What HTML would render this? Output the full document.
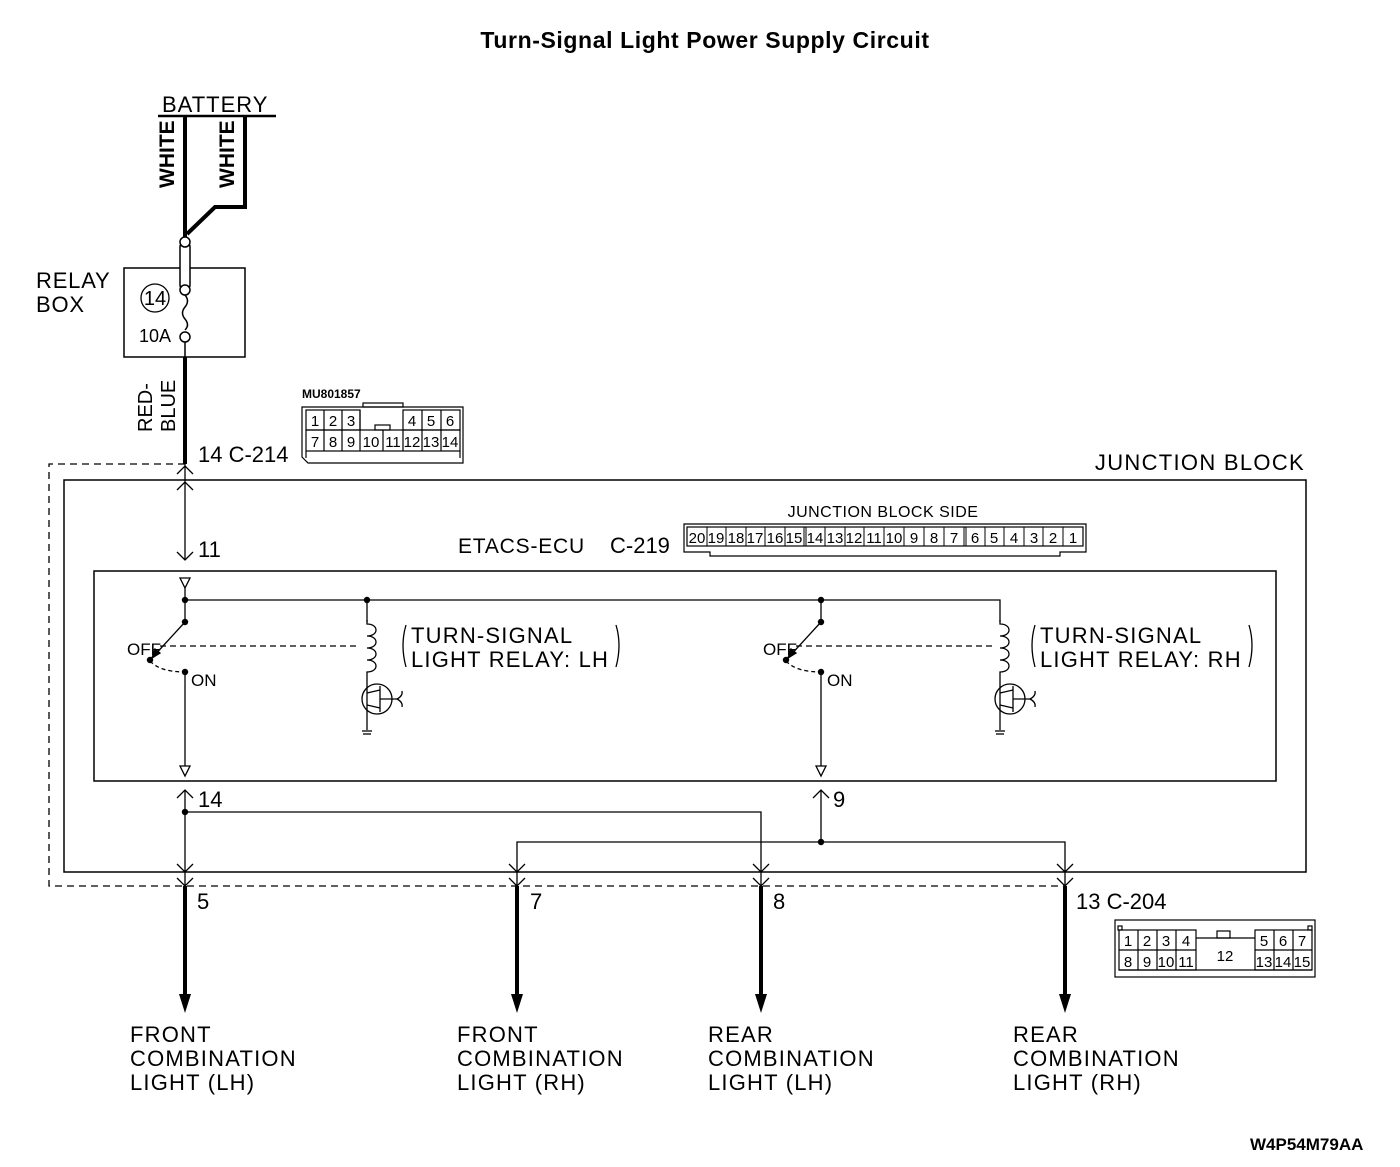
<!DOCTYPE html>
<html><head><meta charset="utf-8"><style>
html,body{margin:0;padding:0;background:#fff;}
svg{display:block;font-family:"Liberation Sans",sans-serif;}
.n{font-family:"Liberation Sans Narrow","Liberation Sans",sans-serif;}
.w{letter-spacing:1.2px;}
</style></head><body>
<svg width="1400" height="1167" viewBox="0 0 1400 1167" xmlns="http://www.w3.org/2000/svg" stroke-linecap="butt">
<text x="705" y="48" font-size="23" font-weight="bold" text-anchor="middle" letter-spacing="0.6">Turn-Signal Light Power Supply Circuit</text>

<!-- battery -->
<text x="162" y="112" font-size="22" letter-spacing="1">BATTERY</text>
<line x1="158" y1="116" x2="276" y2="116" stroke="#000" stroke-width="2.5"/>
<polyline points="185,116 185,238" fill="none" stroke="#000" stroke-width="4"/>
<polyline points="245,116 245,207 215,207 187,234" fill="none" stroke="#000" stroke-width="4"/>
<text transform="translate(174,188) rotate(-90)" font-size="21" font-weight="bold" class="n">WHITE</text>
<text transform="translate(234,188) rotate(-90)" font-size="21" font-weight="bold" class="n">WHITE</text>

<!-- relay box -->
<text x="36" y="288" font-size="22" letter-spacing="0.8">RELAY</text>
<text x="36" y="312" font-size="22" letter-spacing="0.8">BOX</text>
<rect x="124" y="268" width="121" height="89" fill="#fff" stroke="#000" stroke-width="1.5"/>
<rect x="180" y="242" width="10" height="48" rx="5" fill="#fff" stroke="#000" stroke-width="1.5"/>
<circle cx="185" cy="242" r="5" fill="#fff" stroke="#000" stroke-width="1.5"/>
<circle cx="185" cy="290" r="5" fill="#fff" stroke="#000" stroke-width="1.5"/>
<path d="M185,295 q5,6 0,12 q-5,6 0,12 q5,6 0,11" fill="none" stroke="#000" stroke-width="1.5"/>
<circle cx="185" cy="337" r="5" fill="#fff" stroke="#000" stroke-width="1.5"/>
<circle cx="155" cy="298" r="14" fill="none" stroke="#000" stroke-width="1.3"/>
<text x="155" y="305" font-size="20" text-anchor="middle" class="n">14</text>
<text x="139" y="342" font-size="18" class="n">10A</text>
<line x1="185" y1="342" x2="185" y2="357" stroke="#000" stroke-width="1.5"/>
<line x1="185" y1="357" x2="185" y2="464" stroke="#000" stroke-width="4"/>
<text transform="translate(152,432) rotate(-90)" font-size="20" class="n">RED-</text>
<text transform="translate(175,432) rotate(-90)" font-size="20" class="n">BLUE</text>
<text x="198" y="462" font-size="22" class="n">14  C-214</text>

<!-- MU801857 connector -->
<text x="302" y="398" font-size="12" font-weight="bold" class="n">MU801857</text>
<g stroke="#000" fill="none" stroke-width="1.2">
<rect x="363" y="403" width="40" height="4"/>
<path d="M302,407 H463 V463 H308 L302,457 Z"/>
<rect x="306" y="410" width="54" height="20"/>
<rect x="403" y="410" width="57" height="20"/>
<rect x="306" y="430" width="154" height="21"/>
<line x1="324" y1="410" x2="324" y2="451"/><line x1="342" y1="410" x2="342" y2="451"/><line x1="360" y1="410" x2="360" y2="451"/>
<line x1="422" y1="410" x2="422" y2="451"/><line x1="441" y1="410" x2="441" y2="451"/><line x1="403" y1="430" x2="403" y2="451"/>
<line x1="383" y1="430" x2="383" y2="451"/>
<rect x="375" y="425" width="15" height="5"/>
<line x1="306" y1="451" x2="306" y2="458"/><line x1="460" y1="451" x2="460" y2="458"/>
</g>
<g font-size="15" text-anchor="middle" class="n">
<text x="315" y="426">1</text><text x="333" y="426">2</text><text x="351" y="426">3</text>
<text x="412" y="426">4</text><text x="431" y="426">5</text><text x="450" y="426">6</text>
<text x="315" y="447">7</text><text x="333" y="447">8</text><text x="351" y="447">9</text>
<text x="371" y="447">10</text><text x="393" y="447">11</text><text x="412" y="447">12</text><text x="431" y="447">13</text><text x="450" y="447">14</text>
</g>

<!-- junction block -->
<path d="M185,464 H49 V886 H1065" fill="none" stroke="#000" stroke-width="1.3" stroke-dasharray="7,5"/>
<rect x="64" y="480" width="1242" height="392" fill="none" stroke="#000" stroke-width="1.5"/>
<text x="1305" y="470" font-size="22" text-anchor="end" letter-spacing="1.3">JUNCTION BLOCK</text>
<g stroke="#000" fill="none" stroke-width="1.3">
<line x1="185" y1="464" x2="185" y2="560"/>
<polyline points="177,474 185,466 193,474"/>
<polyline points="177,490 185,482 193,490"/>
<polyline points="177,552 185,560 193,552"/>
</g>
<text x="198" y="557" font-size="22" class="n">11</text>
<text x="458" y="553" font-size="21" letter-spacing="0.8">ETACS-ECU</text>
<text x="610" y="553" font-size="22" class="n">C-219</text>

<!-- C-219 connector -->
<text x="883" y="517" font-size="16" text-anchor="middle" letter-spacing="0.5">JUNCTION BLOCK SIDE</text>
<g stroke="#000" fill="none" stroke-width="1.2">
<path d="M684,524 H1086 V552 H1060 V556 H710 V552 H684 Z"/>
<rect x="687" y="527" width="396" height="19"/>
</g>
<g font-size="15" text-anchor="middle" class="n">
<text x="697" y="543">20</text><text x="716" y="543">19</text><text x="736" y="543">18</text><text x="755" y="543">17</text><text x="775" y="543">16</text><text x="794" y="543">15</text><text x="815" y="543">14</text><text x="835" y="543">13</text><text x="854" y="543">12</text><text x="874" y="543">11</text><text x="894" y="543">10</text><text x="914" y="543">9</text><text x="934" y="543">8</text><text x="954" y="543">7</text><text x="975" y="543">6</text><text x="994" y="543">5</text><text x="1014" y="543">4</text><text x="1034" y="543">3</text><text x="1053" y="543">2</text><text x="1073" y="543">1</text>
</g>
<g stroke="#000" stroke-width="1">
<line x1="707" y1="527" x2="707" y2="546"/><line x1="726" y1="527" x2="726" y2="546"/><line x1="746" y1="527" x2="746" y2="546"/><line x1="765" y1="527" x2="765" y2="546"/><line x1="785" y1="527" x2="785" y2="546"/><line x1="804" y1="527" x2="804" y2="546"/><line x1="806" y1="527" x2="806" y2="546"/><line x1="825" y1="527" x2="825" y2="546"/><line x1="845" y1="527" x2="845" y2="546"/><line x1="864" y1="527" x2="864" y2="546"/><line x1="884" y1="527" x2="884" y2="546"/><line x1="904" y1="527" x2="904" y2="546"/><line x1="924" y1="527" x2="924" y2="546"/><line x1="944" y1="527" x2="944" y2="546"/><line x1="964" y1="527" x2="964" y2="546"/><line x1="966" y1="527" x2="966" y2="546"/><line x1="985" y1="527" x2="985" y2="546"/><line x1="1004" y1="527" x2="1004" y2="546"/><line x1="1024" y1="527" x2="1024" y2="546"/><line x1="1043" y1="527" x2="1043" y2="546"/><line x1="1063" y1="527" x2="1063" y2="546"/>
</g>

<!-- inner ECU box -->
<rect x="94" y="571" width="1182" height="210" fill="none" stroke="#000" stroke-width="1.5"/>
<g stroke="#000" fill="none" stroke-width="1.3">
<polygon points="180,578 190,578 185,588"/>
<polyline points="185,588 185,622"/>
<polyline points="185,600 1000,600 1000,622"/>
<line x1="367" y1="600" x2="367" y2="622"/>
</g>

<g stroke="#000" stroke-width="1.3" fill="none">
<line x1="185" y1="622" x2="152" y2="658"/>
<polygon points="152,658 155,649 160,653" fill="#000"/>
<line x1="160" y1="646" x2="358" y2="646" stroke-dasharray="6,4"/>
<path d="M150,661 Q160,672 185,672" stroke-dasharray="4,3"/>
<line x1="185" y1="670" x2="185" y2="766"/>
<polygon points="180,766 190,766 185,776"/>
<path d="M367,620 v4 c12,0 12,12 0,12 c12,0 12,12 0,12 c12,0 12,12 0,12 c12,0 12,12 0,12 v12"/>
<circle cx="377" cy="699" r="15"/>
<line x1="367" y1="684" x2="367" y2="730"/>
<line x1="367" y1="693" x2="380" y2="690"/>
<line x1="367" y1="705" x2="380" y2="708"/>
<line x1="380" y1="686" x2="380" y2="712"/>
<line x1="380" y1="699" x2="397" y2="699"/>
<path d="M397,699 q6,-3 5,-8 M397,699 q6,3 5,8"/>
<line x1="362" y1="731" x2="372" y2="731"/>
<line x1="363" y1="734" x2="371" y2="734"/>
<text x="127" y="655" font-size="17" fill="#000" stroke="none" class="n">OFF</text>
<text x="191" y="686" font-size="17" fill="#000" stroke="none" class="n">ON</text>
<circle cx="185" cy="622" r="3.2" fill="#000" stroke="none"/>
<circle cx="150" cy="660" r="3.2" fill="#000" stroke="none"/>
<circle cx="185" cy="672" r="3.2" fill="#000" stroke="none"/>
<path d="M406,625 q-6,20 0,42" />
<path d="M616,625 q6,20 0,42" />
<text x="411" y="643" font-size="22" fill="#000" stroke="none" class="w">TURN-SIGNAL</text>
<text x="411" y="667" font-size="22" fill="#000" stroke="none" class="w">LIGHT RELAY: LH</text>
</g>
<g transform="translate(636,0)" stroke="#000" stroke-width="1.3" fill="none">
<line x1="185" y1="622" x2="152" y2="658"/>
<polygon points="152,658 155,649 160,653" fill="#000"/>
<line x1="160" y1="646" x2="358" y2="646" stroke-dasharray="6,4"/>
<path d="M150,661 Q160,672 185,672" stroke-dasharray="4,3"/>
<line x1="185" y1="670" x2="185" y2="766"/>
<polygon points="180,766 190,766 185,776"/>
<text x="127" y="655" font-size="17" fill="#000" stroke="none" class="n">OFF</text>
<text x="191" y="686" font-size="17" fill="#000" stroke="none" class="n">ON</text>
<circle cx="185" cy="622" r="3.2" fill="#000" stroke="none"/>
<circle cx="150" cy="660" r="3.2" fill="#000" stroke="none"/>
<circle cx="185" cy="672" r="3.2" fill="#000" stroke="none"/>
<line x1="185" y1="600" x2="185" y2="622"/>
</g>
<g transform="translate(633,0)" stroke="#000" stroke-width="1.3" fill="none">
<path d="M367,620 v4 c12,0 12,12 0,12 c12,0 12,12 0,12 c12,0 12,12 0,12 c12,0 12,12 0,12 v12"/>
<circle cx="377" cy="699" r="15"/>
<line x1="367" y1="684" x2="367" y2="730"/>
<line x1="367" y1="693" x2="380" y2="690"/>
<line x1="367" y1="705" x2="380" y2="708"/>
<line x1="380" y1="686" x2="380" y2="712"/>
<line x1="380" y1="699" x2="397" y2="699"/>
<path d="M397,699 q6,-3 5,-8 M397,699 q6,3 5,8"/>
<line x1="362" y1="731" x2="372" y2="731"/>
<line x1="363" y1="734" x2="371" y2="734"/>
<path d="M402,625 q-6,20 0,42" />
<path d="M616,625 q6,20 0,42" />
<text x="407" y="643" font-size="22" fill="#000" stroke="none" class="w">TURN-SIGNAL</text>
<text x="407" y="667" font-size="22" fill="#000" stroke="none" class="w">LIGHT RELAY: RH</text>
</g>
<circle cx="185" cy="600" r="3.2"/><circle cx="367" cy="600" r="3.2"/><circle cx="821" cy="600" r="3.2"/>

<!-- bottom wiring -->
<g stroke="#000" fill="none" stroke-width="1.3">
<line x1="185" y1="790" x2="185" y2="886"/>
<polyline points="177,798 185,790 193,798"/>
<polyline points="185,812 761,812 761,886"/>
<line x1="821" y1="790" x2="821" y2="842"/>
<polyline points="813,798 821,790 829,798"/>
<polyline points="517,886 517,842 1065,842 1065,886"/>
</g>
<text x="198" y="807" font-size="22" class="n">14</text>
<text x="833" y="807" font-size="22" class="n">9</text>
<circle cx="185" cy="812" r="3.2"/><circle cx="821" cy="842" r="3.2"/>

<g stroke="#000" fill="none" stroke-width="1.3">
<polyline points="177,864 185,872 193,864"/><polyline points="177,878 185,886 193,878"/>
<polyline points="509,864 517,872 525,864"/><polyline points="509,878 517,886 525,878"/>
<polyline points="753,864 761,872 769,864"/><polyline points="753,878 761,886 769,878"/>
<polyline points="1057,864 1065,872 1073,864"/><polyline points="1057,878 1065,886 1073,878"/>
</g>
<g stroke="#000" stroke-width="4">
<line x1="185" y1="886" x2="185" y2="998"/>
<line x1="517" y1="886" x2="517" y2="998"/>
<line x1="761" y1="886" x2="761" y2="998"/>
<line x1="1065" y1="886" x2="1065" y2="998"/>
</g>
<polygon points="179,994 191,994 185,1013"/>
<polygon points="511,994 523,994 517,1013"/>
<polygon points="755,994 767,994 761,1013"/>
<polygon points="1059,994 1071,994 1065,1013"/>
<g font-size="22" class="n">
<text x="197" y="909">5</text><text x="530" y="909">7</text><text x="773" y="909">8</text><text x="1076" y="909">13  C-204</text>
</g>

<!-- C-204 connector -->
<g stroke="#000" fill="none" stroke-width="1.2">
<rect x="1115" y="920" width="200" height="57"/>
<rect x="1118" y="926" width="4" height="4"/><rect x="1308" y="926" width="4" height="4"/>
<rect x="1119" y="930" width="77" height="40"/>
<rect x="1255" y="930" width="57" height="40"/>
<line x1="1119" y1="950" x2="1196" y2="950"/><line x1="1255" y1="950" x2="1312" y2="950"/>
<line x1="1138" y1="930" x2="1138" y2="970"/><line x1="1157" y1="930" x2="1157" y2="970"/><line x1="1176" y1="930" x2="1176" y2="970"/>
<line x1="1274" y1="930" x2="1274" y2="970"/><line x1="1293" y1="930" x2="1293" y2="970"/>
<polyline points="1196,938 1255,938"/>
<rect x="1217" y="931" width="13" height="7"/>
<line x1="1119" y1="970" x2="1312" y2="970"/>
</g>
<g font-size="15" text-anchor="middle" class="n">
<text x="1128" y="946">1</text><text x="1147" y="946">2</text><text x="1166" y="946">3</text><text x="1186" y="946">4</text>
<text x="1264" y="946">5</text><text x="1283" y="946">6</text><text x="1302" y="946">7</text>
<text x="1128" y="967">8</text><text x="1147" y="967">9</text><text x="1166" y="967">10</text><text x="1186" y="967">11</text>
<text x="1225" y="961">12</text>
<text x="1264" y="967">13</text><text x="1283" y="967">14</text><text x="1302" y="967">15</text>
</g>

<!-- destinations -->
<g font-size="22" class="w">
<text x="130" y="1042">FRONT</text><text x="130" y="1066">COMBINATION</text><text x="130" y="1090">LIGHT (LH)</text>
<text x="457" y="1042">FRONT</text><text x="457" y="1066">COMBINATION</text><text x="457" y="1090">LIGHT (RH)</text>
<text x="708" y="1042">REAR</text><text x="708" y="1066">COMBINATION</text><text x="708" y="1090">LIGHT (LH)</text>
<text x="1013" y="1042">REAR</text><text x="1013" y="1066">COMBINATION</text><text x="1013" y="1090">LIGHT (RH)</text>
</g>
<text x="1250" y="1150" font-size="17" font-weight="bold" class="n">W4P54M79AA</text>
</svg>
</body></html>
